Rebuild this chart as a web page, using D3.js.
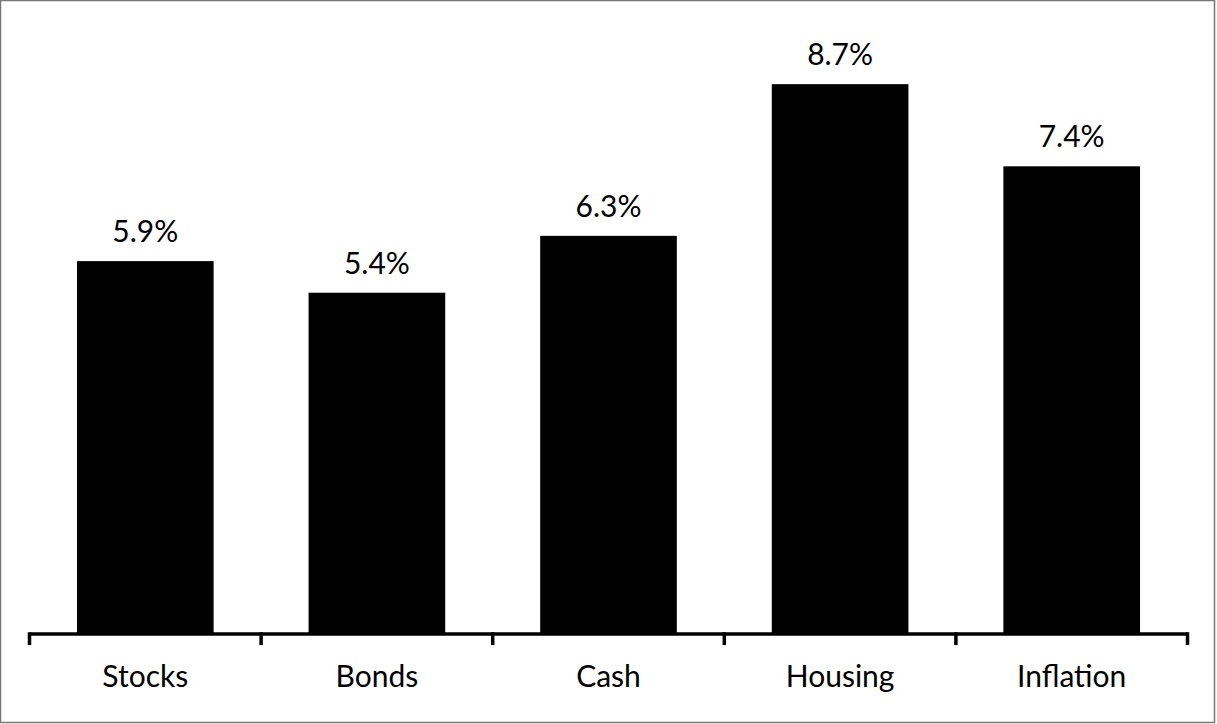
<!DOCTYPE html>
<html>
<head>
<meta charset="utf-8">
<script src="https://cdn.jsdelivr.net/npm/d3@7"></script>
<style>
  body { margin: 0; background: #fff; }
  text { font-family: Lato, "Liberation Sans", Arial, sans-serif; fill: #000; }
</style>
</head>
<body>
<div class="returns-chart"></div>
<script>
var categories = ["Stocks", "Bonds", "Cash", "Housing", "Inflation"];
var returns = [5.9, 5.4, 6.3, 8.7, 7.4];
var labels = ["5.9%", "5.4%", "6.3%", "8.7%", "7.4%"];

var data = categories.map(function(c, i) {
  return { name: c, value: returns[i], label: labels[i] };
});

var W = 1217, H = 724;
var baseY = 634;

var x = d3.scaleBand()
  .domain(categories)
  .range([29.5, 1187.5])
  .paddingInner(0.41)
  .paddingOuter(0.205);
var y = d3.scaleLinear()
  .domain([0, 9])
  .range([baseY, baseY - 9 * 63.2]);

var svg = d3.select(".returns-chart").append("svg")
  .attr("width", W)
  .attr("height", H);

// frame
svg.append("rect")
  .attr("x", 0.5).attr("y", 0.5)
  .attr("width", 1214).attr("height", 722)
  .attr("fill", "none")
  .attr("stroke", "#777")
  .attr("stroke-width", 1.5);

// bars
svg.selectAll(".bar")
  .data(data)
  .enter().append("rect")
  .attr("class", "bar")
  .attr("x", function(d) { return x(d.name); })
  .attr("width", x.bandwidth())
  .attr("y", function(d) { return y(d.value); })
  .attr("height", function(d) { return baseY - y(d.value); })
  .attr("fill", "#000");

// value labels
svg.selectAll(".val")
  .data(data)
  .enter().append("text")
  .attr("class", "val")
  .attr("x", function(d) { return x(d.name) + x.bandwidth() / 2; })
  .attr("y", function(d) { return y(d.value) - 19; })
  .attr("text-anchor", "middle")
  .attr("font-size", 30)
  .text(function(d) { return d.label; });

// x axis: baseline plus ticks at band boundaries
var gap = x.step() * x.paddingInner() / 2;
var bounds = categories.map(function(c) { return x(c) - gap; });
bounds.push(x(categories[categories.length - 1]) + x.bandwidth() + gap);

var axis = svg.append("g").attr("class", "x-axis");
axis.append("line")
  .attr("x1", bounds[0]).attr("x2", bounds[bounds.length - 1])
  .attr("y1", baseY).attr("y2", baseY)
  .attr("stroke", "#000").attr("stroke-width", 3.5);
axis.selectAll(".tick")
  .data(bounds)
  .enter().append("line")
  .attr("class", "tick")
  .attr("x1", function(d) { return d; }).attr("x2", function(d) { return d; })
  .attr("y1", baseY - 1.75).attr("y2", baseY + 11)
  .attr("stroke", "#000").attr("stroke-width", 3.5);

axis.selectAll(".cat")
  .data(data)
  .enter().append("text")
  .attr("class", "cat")
  .attr("x", function(d) { return x(d.name) + x.bandwidth() / 2; })
  .attr("y", 687)
  .attr("text-anchor", "middle")
  .attr("font-size", 30)
  .text(function(d) { return d.name; });
</script>
</body>
</html>
